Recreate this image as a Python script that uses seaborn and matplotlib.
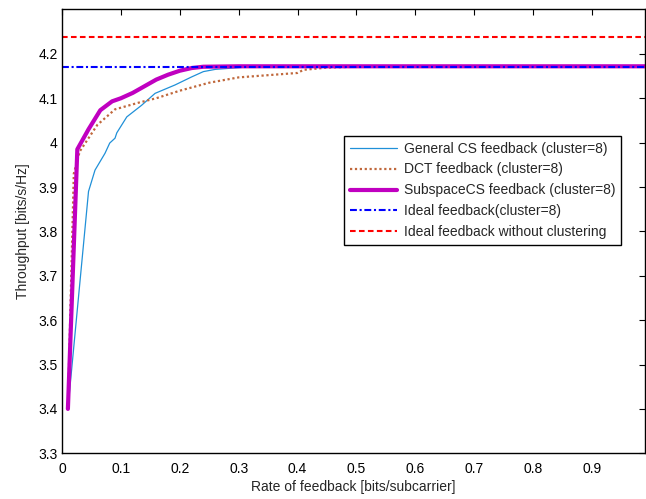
"""Throughput vs feedback rate for the clustered feedback schemes."""
import matplotlib
matplotlib.use('Agg')
import matplotlib.pyplot as plt
import seaborn as sns
import pandas as pd

# General CS feedback (cluster=8)
cs_rate = [0.01, 0.045, 0.056, 0.073, 0.081, 0.09, 0.093, 0.11, 0.135, 0.158,
           0.192, 0.22, 0.24, 0.26, 0.29, 0.32, 0.99]
cs_tput = [3.40, 3.89, 3.938, 3.976, 3.999, 4.01, 4.022, 4.058, 4.084, 4.111,
           4.13, 4.148, 4.16, 4.165, 4.168, 4.171, 4.172]

# DCT feedback (cluster=8)
dct_rate = [0.01, 0.02, 0.03, 0.06, 0.09, 0.13, 0.16, 0.2, 0.25, 0.3, 0.35,
            0.4, 0.41, 0.45, 0.5, 0.99]
dct_tput = [3.40, 3.93, 3.98, 4.04, 4.075, 4.09, 4.10, 4.117, 4.135, 4.147,
            4.152, 4.157, 4.164, 4.169, 4.171, 4.172]

# SubspaceCS feedback (cluster=8)
sub_rate = [0.01, 0.026, 0.045, 0.065, 0.085, 0.1, 0.12, 0.14, 0.16, 0.18,
            0.2, 0.22, 0.24, 0.3, 0.5, 0.99]
sub_tput = [3.40, 3.985, 4.03, 4.073, 4.093, 4.10, 4.112, 4.127, 4.142, 4.153,
            4.162, 4.168, 4.171, 4.172, 4.172, 4.172]

# flat references
ideal_rate = [0.0, 0.99]
ideal_clustered = [4.171, 4.171]
ideal_no_cluster = [4.237, 4.237]

labels = ['General CS feedback (cluster=8)',
          'DCT feedback (cluster=8)',
          'SubspaceCS feedback (cluster=8)',
          'Ideal feedback(cluster=8)',
          'Ideal feedback without clustering']

sns.set_style('white')
plt.rcParams['font.family'] = ['Liberation Sans', 'DejaVu Sans']

fig = plt.figure(figsize=(6.46, 4.99), dpi=100)
ax = fig.add_axes([0.096, 0.0916, 0.9025, 0.8894])

series = [
    (cs_rate, cs_tput, dict(color='#2090d8', lw=0.9, ls='-')),
    (dct_rate, dct_tput, dict(color='#c0683c', lw=1.6, ls=(0, (1, 1.2)))),
    (sub_rate, sub_tput, dict(color='#c000c0', lw=3.0, ls='-')),
    (ideal_rate, ideal_clustered, dict(color='#0000ff', lw=1.5, ls=(0, (3.3, 1.3, 1, 1.3)))),
    (ideal_rate, ideal_no_cluster, dict(color='#ff0000', lw=1.5, ls=(0, (2.7, 1.6)))),
]
for (x, y, style), lab in zip(series, labels):
    df = pd.DataFrame({'rate': x, 'tput': y})
    sns.lineplot(data=df, x='rate', y='tput', ax=ax, label=lab,
                 color=style['color'], linewidth=style['lw'],
                 linestyle=style['ls'], estimator=None, sort=False)

ax.set_xlim(0, 0.99)
ax.set_ylim(3.3, 4.3)
ax.set_xticks([0, 0.1, 0.2, 0.3, 0.4, 0.5, 0.6, 0.7, 0.8, 0.9])
ax.set_xticklabels(['0', '0.1', '0.2', '0.3', '0.4', '0.5', '0.6', '0.7', '0.8', '0.9'])
ax.set_yticks([3.3, 3.4, 3.5, 3.6, 3.7, 3.8, 3.9, 4.0, 4.1, 4.2])
ax.set_yticklabels(['3.3', '3.4', '3.5', '3.6', '3.7', '3.8', '3.9', '4', '4.1', '4.2'])
ax.tick_params(direction='in', length=4, width=0.8, top=True, right=True,
               labelsize=10, colors='black')
ax.tick_params(axis='x', pad=6)
ax.tick_params(axis='y', pad=3)
for side in ax.spines.values():
    side.set_color('black')
    side.set_linewidth(1.0)

ax.set_xlabel('Rate of feedback [bits/subcarrier]', fontsize=10, labelpad=3)
ax.set_ylabel('Throughput [bits/s/Hz]', fontsize=10, labelpad=6)

leg = ax.legend(loc='upper left', bbox_to_anchor=(0.484, 0.715), fontsize=10,
                frameon=True, fancybox=False, framealpha=1, edgecolor='black',
                handlelength=3.4, handletextpad=0.5, labelspacing=0.5,
                borderpad=0.4, borderaxespad=0)
leg.get_frame().set_linewidth(1.0)

plt.savefig('out.png', dpi=100)
plt.close(fig)
